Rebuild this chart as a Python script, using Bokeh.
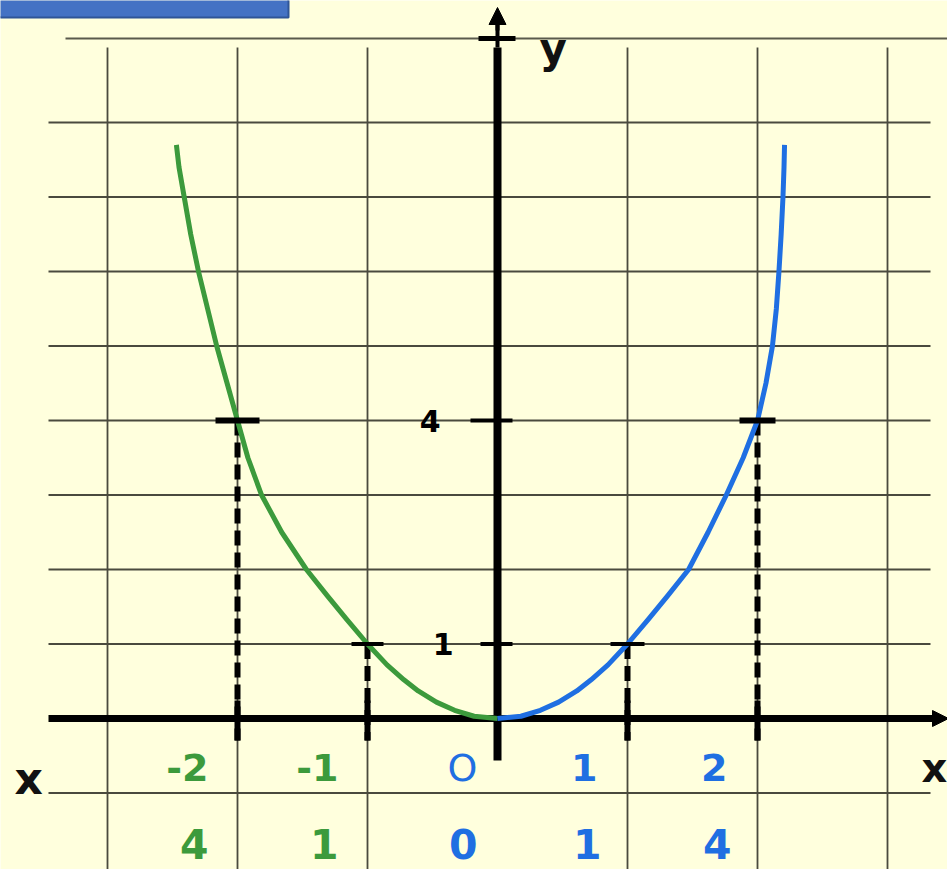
from bokeh.plotting import figure
from bokeh.models import Arrow, NormalHead
from bokeh.core.properties import value
from bokeh.embed import file_html
from bokeh.resources import INLINE

# Table of values: x and x^2, split by branch colour
X_LEFT = [-2, -1]
Y_LEFT = [4, 1]
X_RIGHT = [0, 1, 2]
Y_RIGHT = [0, 1, 4]
Y_TICKS = [1, 4]

# Hand-traced branches of the parabola
GREEN_X = [0.0, -0.18, -0.33, -0.47, -0.61, -0.72, -0.85, -1.0, -1.16, -1.31, -1.47, -1.66,
           -1.815, -1.92, -2.0, -2.08, -2.16, -2.23, -2.30, -2.36, -2.41, -2.45, -2.47]
GREEN_Y = [0.0, 0.03, 0.11, 0.22, 0.37, 0.52, 0.72, 1.0, 1.33, 1.65, 2.0, 2.5,
           3.0, 3.5, 4.0, 4.5, 5.0, 5.5, 6.0, 6.5, 7.0, 7.4, 7.7]
BLUE_X = [0.0, 0.18, 0.33, 0.47, 0.61, 0.72, 0.85, 1.0, 1.16, 1.31, 1.47, 1.62,
          1.76, 1.89, 2.0, 2.065, 2.115, 2.145, 2.165, 2.182, 2.196, 2.204, 2.208]
BLUE_Y = [0.0, 0.03, 0.11, 0.22, 0.37, 0.52, 0.72, 1.0, 1.33, 1.65, 2.0, 2.5,
          3.0, 3.5, 4.0, 4.5, 5.0, 5.5, 6.0, 6.5, 7.0, 7.4, 7.7]

GREEN = "#3c9a3c"
BLUE = "#1f6fe2"
PAPER = "#FFFFDD"
GRID = "#4a4a3e"
FONT = value("DejaVu Sans")

W, H = 947, 869
X0_PX, UX = 497, 130.0   # canvas column of x = 0, pixels per x unit
Y0_PX, UY = 718, 74.5    # canvas row of y = 0, pixels per y unit


def sx(px):
    return (px - X0_PX) / UX


def sy(py):
    return (Y0_PX - py) / UY


p = figure(width=W, height=H, x_range=(sx(0), sx(W)), y_range=(sy(H), sy(0)),
           output_backend="svg", toolbar_location=None, min_border=0)
p.axis.visible = False
p.grid.visible = False
p.outline_line_color = None
p.background_fill_color = PAPER
p.border_fill_color = PAPER

# title bar
p.quad(left=sx(-3), right=sx(288), top=sy(-3), bottom=sy(17),
       fill_color="#4472C4", line_color="#2F5597", line_width=2)

# squared paper
h_rows = [r for r in range(-1, 9) if r != 0]
p.segment(x0=[sx(48)] * len(h_rows), y0=h_rows, x1=[sx(930)] * len(h_rows), y1=h_rows,
          line_color=GRID, line_width=1.8)
p.segment(x0=sx(65), y0=sy(38), x1=sx(W), y1=sy(38), line_color="#5a5a4c", line_width=2)
v_cols = [-3, -2, -1, 1, 2, 3]
p.segment(x0=v_cols, y0=[sy(47)] * len(v_cols), x1=v_cols, y1=[sy(H)] * len(v_cols),
          line_color=GRID, line_width=1.8)

# axes
p.segment(x0=sx(48), y0=0, x1=sx(936), y1=0, line_color="black", line_width=7)
p.add_layout(Arrow(end=NormalHead(size=16, fill_color="black", line_color="black", line_width=1),
                   x_start=sx(925), y_start=0, x_end=sx(948), y_end=0,
                   line_color="black", line_width=6))
p.segment(x0=0, y0=sy(760), x1=0, y1=sy(47), line_color="black", line_width=8)
p.segment(x0=0, y0=sy(47), x1=0, y1=sy(22), line_color="black", line_width=4)
p.add_layout(Arrow(end=NormalHead(size=17, fill_color="black", line_color="black", line_width=1),
                   x_start=0, y_start=sy(30), x_end=0, y_end=sy(7),
                   line_color="black", line_width=4))
p.segment(x0=sx(478), y0=sy(38), x1=sx(515), y1=sy(38), line_color="black", line_width=5)

# y-axis ticks
p.segment(x0=[sx(480), sx(470)], y0=Y_TICKS, x1=[sx(512), sx(512)], y1=Y_TICKS,
          line_color="black", line_width=4)

# drop lines from the plotted points
px_ = X_LEFT + X_RIGHT[1:]
py_ = Y_LEFT + Y_RIGHT[1:]
p.segment(x0=px_, y0=py_, x1=px_, y1=[sy(740)] * len(px_),
          line_color="black", line_width=6, line_dash="15 7")
p.segment(x0=px_, y0=[sy(700)] * len(px_), x1=px_, y1=[sy(740)] * len(px_),
          line_color="black", line_width=6)

# the two branches
p.line(GREEN_X, GREEN_Y, line_color=GREEN, line_width=5, line_join="round")
p.line(BLUE_X, BLUE_Y, line_color=BLUE, line_width=5, line_join="round")

# bars marking each point
p.rect(x=px_, y=py_, width=[44, 32, 34, 36], height=[6, 4, 4, 6],
       width_units="screen", height_units="screen", fill_color="black", line_color=None)

# value table under the axis
row1, row2 = sy(767), sy(843)
txt = dict(text_font=FONT, text_align="right", text_baseline="alphabetic")
p.text(x=X_LEFT, y=[row1] * 2, text=[str(v) for v in X_LEFT], x_offset=-29,
       text_color=GREEN, text_font_style="bold", text_font_size="38px", **txt)
p.text(x=X_RIGHT[1:], y=[row1] * 2, text=[str(v) for v in X_RIGHT[1:]], x_offset=-30,
       text_color=BLUE, text_font_style="bold", text_font_size="38px", **txt)
p.text(x=[X_RIGHT[0]], y=[row1], text=["O"], x_offset=-20,
       text_color=BLUE, text_font_style="normal", text_font_size="38px", **txt)
p.text(x=X_LEFT, y=[row2] * 2, text=[str(v) for v in Y_LEFT], x_offset=-29,
       text_color=GREEN, text_font_style="bold", text_font_size="41px", **txt)
p.text(x=X_RIGHT[1:], y=[row2] * 2, text=[str(v) for v in Y_RIGHT[1:]], x_offset=-26,
       text_color=BLUE, text_font_style="bold", text_font_size="41px", **txt)
p.text(x=[X_RIGHT[0]], y=[row2], text=[str(Y_RIGHT[0])], x_offset=-20,
       text_color=BLUE, text_font_style="bold", text_font_size="41px", **txt)

# y-axis numbers
for val, off in zip(Y_TICKS, (-44, -57)):
    p.text(x=[0], y=[val], text=[str(val)], x_offset=off, text_font=FONT,
           text_align="right", text_baseline="middle", text_color="black",
           text_font_style="bold", text_font_size="30px")

# axis names
p.text(x=[sx(14)], y=[sy(778)], text=["x"], text_font=FONT, text_font_style="bold",
       text_font_size="44px", text_color="#111111", text_align="left", text_baseline="alphabetic")
p.text(x=[sx(921)], y=[sy(767)], text=["x"], text_font=FONT, text_font_style="bold",
       text_font_size="40px", text_color="#111111", text_align="left", text_baseline="alphabetic")
p.text(x=[sx(539)], y=[sy(48)], text=["y"], text_font=FONT, text_font_style="bold",
       text_font_size="42px", text_color="#111111", text_align="left", text_baseline="alphabetic")

open("out.html", "w").write(file_html(p, INLINE))
